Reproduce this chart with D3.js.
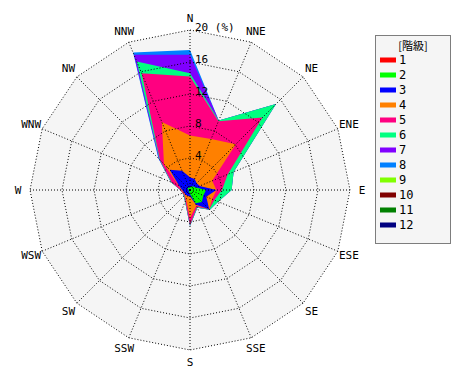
<!DOCTYPE html>
<html><head><meta charset="utf-8">
<script src="https://cdn.jsdelivr.net/npm/d3@7"></script>
<style>body{margin:0;background:#fff}svg{display:block}</style>
</head><body>
<svg id="c" width="470" height="380"></svg>
<script>
const directions = ["N","NNE","NE","ENE","E","ESE","SE","SSE","S","SSW","SW","WSW","W","WNW","NW","NNW"];
const classes = ["1","2","3","4","5","6","7","8","9","10","11","12"];
const classColors = ["#ff0000","#00ff00","#0000ff","#ff8000","#ff0080","#00ff80","#8000ff","#0080ff","#80ff00","#800000","#008000","#000080"];
const ringTicks = [4, 8, 12, 16, 20];
// frequency (%) per class, per direction (N ... NNW)
const class1  = [0.1,0.1,0.1,0.1,0.1,0.1,0.1,0.1,0.1,0.1,0.1,0.1,0.1,0.1,0.1,0.1];
const class2  = [0.2,0.4,0.5,0.7,1.9,1.7,2.0,1.7,0.4,0.2,0.1,0.1,0.1,0.2,0.3,0.2];
const class3  = [1.3,1.0,0.6,0.5,1.3,0.4,1.3,0.2,0.3,0.5,0.6,0.6,0.8,1.2,3.2,2.3];
const class4  = [5.2,5.4,6.9,1.7,0.0,0.8,0.0,0.1,2.7,0.5,0.1,0.1,0.1,0.1,1.0,6.6];
const class5  = [7.4,2.4,4.7,2.1,0.7,0.3,0.0,0.2,0.9,0.2,0.1,0.1,0.1,0.9,0.7,6.6];
const class6  = [0.4,0.1,2.4,0.8,1.2,0.5,0.1,0.1,0.1,0.1,0.1,0.0,0.0,0.1,0.1,1.6];
const class7  = [2.3,0.0,0.0,0.0,0.0,0.0,0.0,0.0,0.0,0.0,0.0,0.0,0.0,0.0,0.1,0.9];
const class8  = [0.6,0.0,0.0,0.0,0.0,0.0,0.0,0.0,0.0,0.0,0.0,0.0,0.0,0.0,0.1,0.3];
const class9  = [0,0,0,0,0,0,0,0,0,0,0,0,0,0,0,0];
const class10 = [0,0,0,0,0,0,0,0,0,0,0,0,0,0,0,0];
const class11 = [0,0,0,0,0,0,0,0,0,0,0,0,0,0,0,0];
const class12 = [0,0,0,0,0,0,0,0,0,0,0,0,0,0,0,0];
const series = [class1,class2,class3,class4,class5,class6,class7,class8,class9,class10,class11,class12];

const svg = d3.select("#c");
const cx = 190, cy = 190, rMax = 160, maxVal = 20;
const mono = "'DejaVu Sans Mono', monospace";
const r = d3.scaleLinear().domain([0, maxVal]).range([0, rMax]);
const ang = d3.scaleLinear().domain([0, directions.length]).range([0, 2 * Math.PI]);
const g = svg.append("g").attr("transform", `translate(${cx},${cy})`);

const ringLine = d3.lineRadial().curve(d3.curveLinearClosed);
const ringPts = v => directions.map((d, i) => [ang(i), r(v)]);

// background
g.append("path").attr("d", ringLine(ringPts(maxVal))).attr("fill", "#f5f5f5");

// cumulative stacks
const cum = [];
series.forEach((s, k) => {
  cum.push(s.map((v, i) => v + (k > 0 ? cum[k - 1][i] : 0)));
});
const areaLine = d3.lineRadial().angle((d, i) => ang(i)).radius(d => r(d)).curve(d3.curveLinearClosed);
for (let k = series.length - 1; k >= 0; k--) {
  if (d3.sum(series[k]) === 0) continue;
  g.append("path").attr("d", areaLine(cum[k])).attr("fill", classColors[k]).attr("stroke", "none");
}

// grid
ringTicks.forEach(t => {
  g.append("path").attr("d", ringLine(ringPts(t))).attr("fill", "none")
    .attr("stroke", "#000").attr("stroke-width", 1).attr("stroke-dasharray", "1,2");
});
directions.forEach((d, i) => {
  const a = ang(i);
  g.append("line").attr("x1", 0).attr("y1", 0)
    .attr("x2", r(maxVal) * Math.sin(a)).attr("y2", -r(maxVal) * Math.cos(a))
    .attr("stroke", "#000").attr("stroke-width", 1).attr("stroke-dasharray", "1,2");
});

// direction labels
directions.forEach((d, i) => {
  const a = ang(i), rr = 172;
  g.append("text").attr("x", rr * Math.sin(a)).attr("y", -rr * Math.cos(a))
    .attr("text-anchor", "middle").attr("dominant-baseline", "central")
    .attr("font-family", mono).attr("font-size", 11).attr("fill", "#000").text(d);
});

// ring tick labels
ringTicks.forEach(t => {
  g.append("text").attr("x", 5).attr("y", -r(t) - 3)
    .attr("dominant-baseline", "central")
    .attr("font-family", mono).attr("font-size", 11).attr("fill", "#000")
    .text(t === maxVal ? t + " (%)" : t);
});

// legend
const lg = svg.append("g").attr("transform", "translate(375,35)");
lg.append("rect").attr("x", 0.5).attr("y", 0.5).attr("width", 75).attr("height", 208)
  .attr("fill", "#f5f5f5").attr("stroke", "#000").attr("stroke-dasharray", "1,1");
lg.append("text").attr("x", 38).attr("y", 10).attr("text-anchor", "middle")
  .attr("dominant-baseline", "central")
  .attr("font-family", "'Noto Sans CJK JP', sans-serif").attr("font-size", 11).text("[階級]");
classes.forEach((c, i) => {
  const y = 25 + i * 15;
  lg.append("rect").attr("x", 5).attr("y", y - 2.5).attr("width", 16).attr("height", 5).attr("fill", classColors[i]);
  lg.append("text").attr("x", 24).attr("y", y).attr("dominant-baseline", "central")
    .attr("font-family", mono).attr("font-size", 12).text(c);
});
</script>
</body></html>
